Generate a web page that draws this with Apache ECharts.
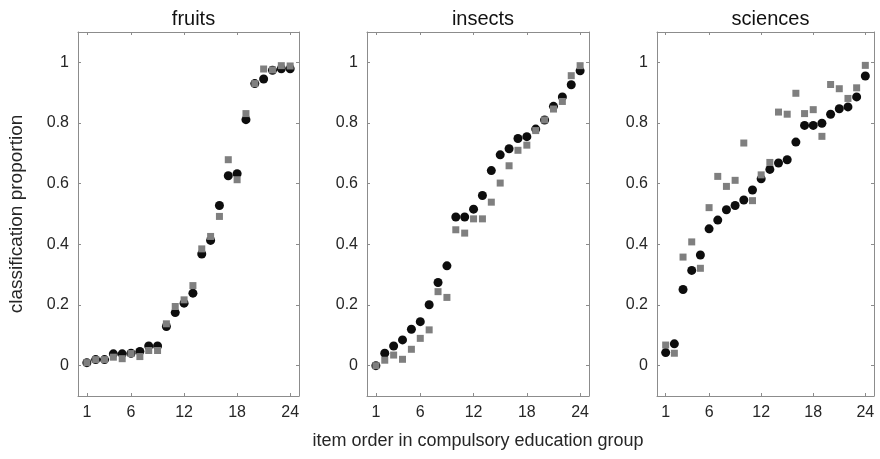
<!DOCTYPE html>
<html>
<head>
<meta charset="utf-8">
<script src="https://cdn.jsdelivr.net/npm/echarts@6/dist/echarts.min.js"></script>
<style>
  html, body { margin: 0; padding: 0; background: #fff; }
  #chart { width: 880px; height: 459px; }
</style>
</head>
<body>
<div id="chart"></div>
<script>
// item order 1..24
const items = [1, 2, 3, 4, 5, 6, 7, 8, 9, 10, 11, 12, 13, 14, 15, 16, 17, 18, 19, 20, 21, 22, 23, 24]
const xTicks = [1, 6, 12, 18, 24]
const yTicks = [0, 0.2, 0.4, 0.6, 0.8, 1]

// black circles
const fruitsBlack = [0.01, 0.02, 0.02, 0.039, 0.039, 0.041, 0.047, 0.065, 0.065, 0.129, 0.175, 0.206, 0.239, 0.368, 0.413, 0.528, 0.626, 0.633, 0.811, 0.93, 0.945, 0.974, 0.979, 0.979]
const insectsBlack = [0, 0.041, 0.065, 0.085, 0.12, 0.145, 0.201, 0.274, 0.329, 0.49, 0.49, 0.516, 0.561, 0.643, 0.695, 0.715, 0.749, 0.755, 0.78, 0.81, 0.855, 0.886, 0.926, 0.972]
const sciencesBlack = [0.043, 0.072, 0.251, 0.314, 0.365, 0.451, 0.48, 0.514, 0.528, 0.546, 0.579, 0.616, 0.647, 0.668, 0.679, 0.737, 0.792, 0.792, 0.799, 0.829, 0.847, 0.853, 0.886, 0.955]
// grey squares
const fruitsGray = [0.01, 0.02, 0.02, 0.028, 0.023, 0.04, 0.03, 0.05, 0.05, 0.138, 0.195, 0.217, 0.264, 0.385, 0.426, 0.492, 0.679, 0.613, 0.831, 0.93, 0.978, 0.975, 0.989, 0.988]
const insectsGray = [0, 0.018, 0.035, 0.021, 0.054, 0.09, 0.118, 0.244, 0.225, 0.448, 0.437, 0.484, 0.484, 0.539, 0.602, 0.659, 0.71, 0.727, 0.775, 0.81, 0.846, 0.871, 0.956, 0.989]
const sciencesGray = [0.068, 0.041, 0.358, 0.408, 0.321, 0.521, 0.624, 0.591, 0.611, 0.734, 0.544, 0.629, 0.67, 0.836, 0.829, 0.898, 0.831, 0.844, 0.756, 0.927, 0.913, 0.881, 0.916, 0.99]

const panels = [
  { title: 'fruits', black: fruitsBlack, gray: fruitsGray, left: 78, width: 221 },
  { title: 'insects', black: insectsBlack, gray: insectsGray, left: 367, width: 222 },
  { title: 'sciences', black: sciencesBlack, gray: sciencesGray, left: 657, width: 217 }
]

const axisColor = '#8c8c8c'
const textColor = '#262626'
const font = 'Liberation Sans, Arial, Helvetica, sans-serif'

const chart = echarts.init(document.getElementById('chart'))

const grid = []
const xAxis = []
const yAxis = []
const series = []
const title = []

panels.forEach(function (p, i) {
  grid.push({ left: p.left, width: p.width, top: 32, height: 364 })
  title.push({
    text: p.title,
    left: p.left + p.width / 2,
    top: 4,
    textAlign: 'center',
    textStyle: { fontFamily: font, fontSize: 20, fontWeight: 'normal', color: '#111' }
  })
  const line = { show: true, onZero: false, lineStyle: { color: axisColor, width: 1 } }
  const tick = { show: true, inside: true, length: 3, customValues: xTicks, lineStyle: { color: axisColor } }
  const ytick = { show: true, inside: true, length: 3, customValues: yTicks, lineStyle: { color: axisColor } }
  xAxis.push({
    type: 'value', gridIndex: i, min: 0, max: 25, position: 'bottom',
    axisLine: line, axisTick: tick, splitLine: { show: false },
    axisLabel: { customValues: xTicks, margin: 9, fontFamily: font, fontSize: 16, color: textColor }
  })
  xAxis.push({
    type: 'value', gridIndex: i, min: 0, max: 25, position: 'top',
    axisLine: line, axisTick: tick, splitLine: { show: false }, axisLabel: { show: false }
  })
  yAxis.push({
    type: 'value', gridIndex: i, min: -0.1, max: 1.1, position: 'left',
    axisLine: line, axisTick: ytick, splitLine: { show: false },
    axisLabel: { customValues: yTicks, margin: 9, fontFamily: font, fontSize: 16, color: textColor }
  })
  yAxis.push({
    type: 'value', gridIndex: i, min: -0.1, max: 1.1, position: 'right',
    axisLine: line, axisTick: ytick, splitLine: { show: false }, axisLabel: { show: false }
  })
  series.push({
    name: p.title + ' circle',
    type: 'scatter',
    xAxisIndex: i * 2,
    yAxisIndex: i * 2,
    symbol: 'circle',
    symbolSize: 9,
    itemStyle: { color: '#0d0d0d', opacity: 1 },
    z: 2,
    data: items.map(function (x, k) { return [x, p.black[k]] })
  })
  series.push({
    name: p.title + ' square',
    type: 'scatter',
    xAxisIndex: i * 2,
    yAxisIndex: i * 2,
    symbol: 'rect',
    symbolSize: 7,
    itemStyle: { color: '#7f7f7f', opacity: 1 },
    z: 3,
    data: items.map(function (x, k) { return [x, p.gray[k]] })
  })
})

chart.setOption({
  backgroundColor: '#fff',
  animation: false,
  title: title,
  grid: grid,
  xAxis: xAxis,
  yAxis: yAxis,
  series: series,
  graphic: [
    {
      type: 'text',
      x: 17,
      y: 214,
      rotation: Math.PI / 2,
      style: { text: 'classification proportion', fontFamily: font, fontSize: 19, fill: textColor, textAlign: 'center', textVerticalAlign: 'middle' }
    },
    {
      type: 'text',
      x: 478,
      y: 441,
      style: { text: 'item order in compulsory education group', fontFamily: font, fontSize: 18, fill: textColor, textAlign: 'center', textVerticalAlign: 'middle' }
    }
  ]
})
</script>
</body>
</html>
